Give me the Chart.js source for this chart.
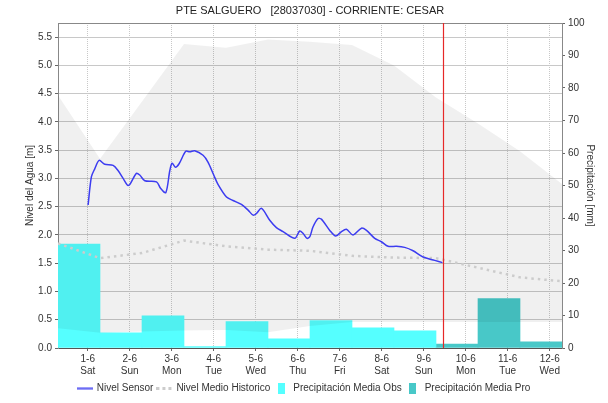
<!DOCTYPE html>
<html>
<head>
<meta charset="utf-8">
<script src="https://cdn.jsdelivr.net/npm/chart.js@4.4.1/dist/chart.umd.min.js"></script>
<style>
  html, body { margin: 0; padding: 0; background: #fff; }
</style>
</head>
<body>
<canvas id="nivelChart" width="608" height="403"></canvas>
<script>
    // etiquetas del eje de tiempo (una por dia, a las 00:00)
    const fechas = ['1-6', '2-6', '3-6', '4-6', '5-6', '6-6', '7-6', '8-6', '9-6', '10-6', '11-6', '12-6'];
    const dias = ['Sat', 'Sun', 'Mon', 'Tue', 'Wed', 'Thu', 'Fri', 'Sat', 'Sun', 'Mon', 'Tue', 'Wed'];

    // tiempos en horas desde 1-6 00:00
    const horasSensor = [0.2, 2.1, 4.0, 6.5, 9.7, 14.5, 17.3, 20.2, 22.7, 24.0, 27.8, 29.7, 32.6, 39.3, 41.7, 44.6,
        46.9, 48.2, 50.1, 52.2, 56.0, 58.3, 61.1, 65.9, 68.7, 72.0, 74.5, 79.3, 83.0, 87.8, 91.6, 94.5, 96.4, 99.3,
        104.0, 107.8, 111.6, 118.3, 121.1, 123.0, 125.3, 126.9, 128.7, 131.6, 133.5, 138.3, 141.7, 145.0, 147.8,
        151.6, 156.4, 159.3, 164.0, 167.8, 171.6, 176.4, 181.1, 185.9, 191.6, 198.3, 202.7];
    const nivelSensor = [2.53, 3.03, 3.17, 3.32, 3.25, 3.23, 3.14, 3.00, 2.88, 2.89, 3.09, 3.06, 2.96, 2.94, 2.82, 2.75,
        3.14, 3.27, 3.20, 3.26, 3.48, 3.47, 3.49, 3.41, 3.29, 3.06, 2.89, 2.67, 2.61, 2.54, 2.44, 2.35, 2.38, 2.47,
        2.26, 2.13, 2.06, 1.94, 2.07, 2.03, 1.94, 1.97, 2.14, 2.29, 2.28, 2.08, 1.98, 2.06, 2.10,
        2.00, 2.12, 2.08, 1.94, 1.88, 1.80, 1.80, 1.78, 1.72, 1.61, 1.55, 1.51];

    // historico diario (07:00)
    const horasHist = [-17, 7, 31, 55, 79, 103, 127, 151, 175, 199, 223, 247, 271];
    const nivelMedioHist = [1.85, 1.59, 1.68, 1.90, 1.80, 1.74, 1.72, 1.63, 1.60, 1.59, 1.42, 1.25, 1.18];
    const nivelMaxHist = [4.47, 3.35, 4.36, 5.38, 5.31, 5.46, 5.42, 5.36, 5.00, 4.43, 3.97, 3.48, 2.90];
    const nivelMinHist = [0.35, 0.27, 0.29, 0.31, 0.32, 0.28, 0.39, 0.46, 0.46, 0.46, 0.46, 0.46, 0.46];

    // precipitacion diaria 07:00 - 07:00 (centro del intervalo)
    const horasLluvia = [-5, 19, 43, 67, 91, 115, 139, 163, 187, 211, 235, 259];
    const lluviaObs = [32.0, 4.7, 9.9, 0.4, 8.1, 2.8, 8.4, 6.2, 5.3];
    const lluviaPro = [1.2, 15.2, 1.9];

    const horaActual = 203;
    const horaIni = -17, horaFin = 271;
    const titulo = 'PTE SALGUERO   [28037030] - CORRIENTE: CESAR';

    const pares = (xs, ys) => ys.map((y, i) => ({ x: xs[i], y: y }));

    // iconos de la leyenda
    function icono(w, h, dibujar) {
        const c = document.createElement('canvas');
        c.width = w; c.height = h;
        dibujar(c.getContext('2d'));
        return c;
    }
    const icoSensor = icono(16, 3, g => { g.fillStyle = '#3c3cf0'; g.fillRect(0, 1, 16, 1.5); });
    const icoHist = icono(16, 3, g => { g.fillStyle = '#cccccc'; for (let i = 0; i < 16; i += 6) g.fillRect(i, 0, 3, 3); });
    const icoObs = icono(7, 11, g => { g.fillStyle = '#55ffff'; g.fillRect(0, 0, 7, 11); });
    const icoPro = icono(7, 11, g => { g.fillStyle = '#48c8c8'; g.fillRect(0, 0, 7, 11); });

    Chart.defaults.font.family = "'Liberation Sans', Arial, sans-serif";
    Chart.defaults.font.size = 10;
    Chart.defaults.color = '#333';

    // titulo, borde superior y linea roja del momento actual
    const marcoPlugin = {
        id: 'marco',
        afterDatasetsDraw(chart) {
            const { ctx, chartArea: a, scales } = chart;
            ctx.save();
            ctx.strokeStyle = '#888';
            ctx.lineWidth = 1;
            ctx.beginPath();
            ctx.moveTo(a.left, a.top + 0.5);
            ctx.lineTo(a.right, a.top + 0.5);
            ctx.stroke();
            const px = Math.round(scales.x.getPixelForValue(horaActual)) + 0.5;
            ctx.strokeStyle = 'rgb(230, 40, 40)';
            ctx.lineWidth = 1.2;
            ctx.beginPath();
            ctx.moveTo(px, a.top);
            ctx.lineTo(px, a.bottom);
            ctx.stroke();
            ctx.restore();
        },
        afterDraw(chart) {
            const { ctx, chartArea: a } = chart;
            ctx.save();
            ctx.font = "11px 'Liberation Sans', Arial, sans-serif";
            ctx.fillStyle = '#222';
            ctx.textAlign = 'center';
            ctx.textBaseline = 'middle';
            ctx.fillText(titulo, (a.left + a.right) / 2, 11);
            ctx.restore();
        }
    };

    const ctx = document.getElementById('nivelChart').getContext('2d');
    new Chart(ctx, {
        data: {
            datasets: [{
                type: 'line',
                label: 'Nivel Sensor',
                data: pares(horasSensor, nivelSensor),
                borderColor: '#3c3cf0',
                borderWidth: 1.5,
                pointRadius: 0,
                tension: 0.3,
                pointStyle: icoSensor,
                yAxisID: 'y',
                order: 1
            }, {
                type: 'line',
                label: 'Nivel Medio Historico',
                data: pares(horasHist, nivelMedioHist),
                borderColor: '#cccccc',
                borderWidth: 2.5,
                borderDash: [2.5, 4],
                pointRadius: 0,
                pointStyle: icoHist,
                yAxisID: 'y',
                order: 2
            }, {
                type: 'line',
                label: 'max',
                data: pares(horasHist, nivelMaxHist),
                borderWidth: 0,
                borderColor: 'rgba(0,0,0,0)',
                backgroundColor: 'rgba(0,0,0,0.06)',
                fill: '+1',
                pointRadius: 0,
                yAxisID: 'y',
                order: 3
            }, {
                type: 'line',
                label: 'min',
                data: pares(horasHist, nivelMinHist),
                borderWidth: 0,
                borderColor: 'rgba(0,0,0,0)',
                pointRadius: 0,
                yAxisID: 'y',
                order: 4
            }, {
                type: 'bar',
                label: 'Precipitación Media Obs',
                data: pares(horasLluvia.slice(0, lluviaObs.length), lluviaObs),
                backgroundColor: '#55ffff',
                pointStyle: icoObs,
                xAxisID: 'xb',
                yAxisID: 'y1',
                grouped: false,
                barPercentage: 1,
                categoryPercentage: 1,
                order: 5
            }, {
                type: 'bar',
                label: 'Precipitación Media Pro',
                data: pares(horasLluvia.slice(lluviaObs.length), lluviaPro),
                backgroundColor: '#48c8c8',
                pointStyle: icoPro,
                xAxisID: 'xb',
                yAxisID: 'y1',
                grouped: false,
                barPercentage: 1,
                categoryPercentage: 1,
                order: 6
            }]
        },
        options: {
            responsive: false,
            animation: false,
            devicePixelRatio: 1,
            layout: { padding: { left: 0, right: 0, top: 23, bottom: 0 } },
            plugins: {
                title: { display: false },
                legend: {
                    position: 'bottom',
                    labels: {
                        usePointStyle: true,
                        boxWidth: 10,
                        boxHeight: 10,
                        pointStyleWidth: 14,
                        font: { size: 10 },
                        color: '#333',
                        padding: 4,
                        filter: item => item.datasetIndex !== 2 && item.datasetIndex !== 3,
                        sort: (a, b) => a.datasetIndex - b.datasetIndex
                    }
                },
                tooltip: { enabled: false }
            },
            scales: {
                x: {
                    type: 'linear',
                    min: horaIni,
                    max: horaFin,
                    afterBuildTicks: axis => { axis.ticks = fechas.map((f, i) => ({ value: i * 24 })); },
                    ticks: {
                        maxRotation: 0,
                        autoSkip: false,
                        padding: 2,
                        color: '#333',
                        callback: (v, i) => [fechas[i], dias[i]]
                    },
                    grid: {
                        color: '#c8c8c8',
                        tickColor: '#666',
                        tickLength: 3,
                        tickBorderDash: []
                    },
                    border: { color: '#555', dash: [1, 1] }
                },
                xb: {
                    type: 'linear',
                    display: false,
                    offset: false,
                    min: horaIni,
                    max: horaFin,
                    afterBuildTicks: axis => { axis.ticks = horasLluvia.map(v => ({ value: v })); }
                },
                y: {
                    position: 'left',
                    min: 0,
                    max: 5.75,
                    afterFit: axis => { axis.width = 58; },
                    ticks: {
                        stepSize: 0.5,
                        includeBounds: false,
                        padding: 3,
                        color: '#333',
                        callback: v => v.toFixed(1)
                    },
                    grid: {
                        color: '#c8c8c8',
                        tickColor: '#666',
                        tickLength: 3,
                        tickBorderDash: []
                    },
                    border: { color: '#888' },
                    title: {
                        display: true,
                        text: 'Nivel del Agua [m]',
                        font: { size: 10 },
                        color: '#333',
                        padding: { top: 24, bottom: 0 }
                    }
                },
                y1: {
                    position: 'right',
                    min: 0,
                    max: 100,
                    afterFit: axis => { axis.width = 46; },
                    ticks: {
                        stepSize: 10,
                        includeBounds: false,
                        padding: 3,
                        color: '#333'
                    },
                    grid: {
                        drawOnChartArea: false,
                        tickColor: '#666',
                        tickLength: 3
                    },
                    border: { color: '#888' },
                    title: {
                        display: true,
                        text: 'Precipitación [mm]',
                        font: { size: 10 },
                        color: '#333',
                        padding: { top: 12, bottom: 0 }
                    }
                }
            }
        },
        plugins: [marcoPlugin]
    });
</script>
</body>
</html>
